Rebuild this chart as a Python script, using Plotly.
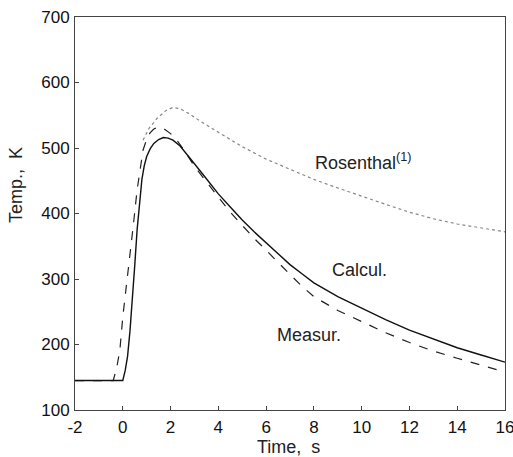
import plotly.graph_objects as go

# Calcul. (solid)
calc_t = [-2, 0, 0.1, 0.2, 0.3, 0.4, 0.5, 0.6, 0.7, 0.8, 0.9, 1.0, 1.15, 1.3, 1.5, 1.7, 1.9, 2.1, 2.4, 2.7, 3.0, 3.5, 4, 4.5, 5, 5.5, 6, 6.5, 7, 7.5, 8, 9, 10, 11, 12, 13, 14, 15, 16]
calc_T = [145, 145, 160, 182, 220, 265, 320, 375, 420, 452, 473, 487, 499, 507, 513, 516, 515, 512, 503, 490, 476, 453, 430, 410, 390, 372, 355, 338, 322, 308, 294, 273, 255, 238, 222, 208, 195, 184, 173]

# Measur. (dashed)
meas_t = [-2, -0.4, -0.25, -0.12, 0, 0.17, 0.3, 0.45, 0.6, 0.75, 0.85, 1.0, 1.14, 1.3, 1.5, 1.7, 2.0, 2.3, 2.6, 3, 3.5, 4, 4.5, 5, 5.5, 6, 6.5, 7, 7.5, 8, 9, 10, 11, 12, 13, 14, 15, 16]
meas_T = [145, 145, 165, 192, 242, 294, 330, 385, 436, 476, 497, 513, 523, 529, 532, 530, 522, 510, 495, 472, 448, 425, 402, 382, 362, 344, 325, 307, 289, 273, 252, 235, 218, 203, 190, 179, 168, 158]

# Rosenthal (dotted)
ros_t = [0.85, 1.1, 1.43, 1.8, 2.1, 2.4, 2.8, 3.2, 4, 5, 6, 7, 8, 9, 10, 11, 12, 13, 14, 15, 16]
ros_T = [512, 530, 545, 557, 562, 560, 552, 542, 524, 502, 483, 467, 452, 439, 426, 414, 402, 392, 384, 378, 372]

x_ticks = [-2, 0, 2, 4, 6, 8, 10, 12, 14, 16]
y_ticks = [100, 200, 300, 400, 500, 600, 700]

FONT = "Liberation Sans, Arial, Helvetica, sans-serif"

fig = go.Figure()
fig.add_trace(go.Scatter(x=ros_t, y=ros_T, mode="lines",
                         line=dict(color="#888888", width=1.2, dash="dot")))
fig.add_trace(go.Scatter(x=meas_t, y=meas_T, mode="lines",
                         line=dict(color="#222222", width=1.2, dash="dash")))
fig.add_trace(go.Scatter(x=calc_t, y=calc_T, mode="lines",
                         line=dict(color="#111111", width=1.4)))

font_txt = dict(family=FONT, size=18, color="#222222")
fig.add_annotation(x=7.96, y=479, xanchor="left", text="Rosenthal<sup>(1)</sup>",
                   showarrow=False, font=font_txt)
fig.add_annotation(x=9.92, y=314, text="Calcul.", showarrow=False, font=font_txt)
fig.add_annotation(x=7.79, y=215, text="Measur.", showarrow=False, font=font_txt)

# axis titles
fig.add_annotation(xref="paper", yref="paper", x=0.4965, y=-0.093, xanchor="center", yanchor="middle",
                   text="Time,  s", showarrow=False, font=font_txt)
fig.add_annotation(xref="paper", yref="paper", x=-0.137, y=0.5725, xanchor="center", yanchor="middle",
                   text="Temp.,  K", textangle=-90, showarrow=False, font=font_txt)

axis_common = dict(showgrid=False, zeroline=False, showline=True, linecolor="#444444", linewidth=1,
                   mirror=True, ticks="inside", ticklen=4, tickcolor="#444444", automargin=False,
                   tickfont=dict(family=FONT, size=17, color="#111111"))

fig.update_layout(
    width=513, height=457,
    margin=dict(l=75, r=8, t=17, b=47),
    paper_bgcolor="white", plot_bgcolor="white",
    showlegend=False,
    xaxis=dict(range=[-2, 16], tickvals=x_ticks, ticktext=[str(v) for v in x_ticks],
               ticklabeloverflow="allow", ticklabelstandoff=2, **axis_common),
    yaxis=dict(range=[100, 700], tickvals=y_ticks, ticktext=[str(v) for v in y_ticks],
               ticklabelstandoff=1, **axis_common),
)

fig.write_html("out.html", config={"displayModeBar": False},
               post_script="document.body.style.margin='0';")
